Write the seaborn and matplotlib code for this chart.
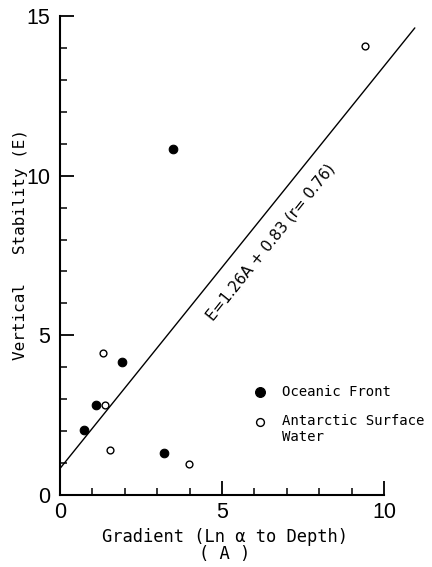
import matplotlib
matplotlib.use("Agg")
import matplotlib.pyplot as plt
import seaborn as sns
import numpy as np
import pandas as pd

# Data
front_x = [3.49, 1.91, 1.10, 0.73, 3.22]
front_y = [10.82, 4.16, 2.81, 2.04, 1.31]
asw_x = [9.41, 1.32, 1.40, 1.55, 3.98]
asw_y = [14.05, 4.45, 2.81, 1.40, 0.97]
slope = 1.26
intercept = 0.83
line_x = [0.0, 10.95]
x_ticks = [0, 5, 10]
y_ticks = [0, 5, 10, 15]

sns.set_style("ticks")
plt.rcParams['font.family'] = ['DejaVu Sans Mono', 'DejaVu Sans']
plt.rcParams['text.color'] = 'black'
plt.rcParams['axes.labelcolor'] = 'black'
plt.rcParams['xtick.color'] = 'black'
plt.rcParams['ytick.color'] = 'black'
plt.rcParams['axes.edgecolor'] = 'black'

fig = plt.figure(figsize=(4.32, 5.67), dpi=100)
ax = fig.add_axes([60/432, 72/567, 372/432, 479/567])

df_front = pd.DataFrame({"A": front_x, "E": front_y})
df_asw = pd.DataFrame({"A": asw_x, "E": asw_y})

sns.lineplot(x=line_x, y=[intercept + slope * v for v in line_x], ax=ax,
             color="black", linewidth=1.0, legend=False)
sns.scatterplot(data=df_front, x="A", y="E", ax=ax, s=38, color="black",
                edgecolor="black", linewidth=0.8, label="Oceanic Front", zorder=3)
sns.scatterplot(data=df_asw, x="A", y="E", ax=ax, s=24, facecolor="white",
                edgecolor="black", linewidth=1.0, label="Antarctic Surface\nWater", zorder=3)

ax.set_xlim(0, 11.48)
ax.set_ylim(0, 15)
ax.spines['top'].set_visible(False)
ax.spines['right'].set_visible(False)
ax.spines['bottom'].set_bounds(0, 10)
ax.spines['left'].set_bounds(0, 15)
for s in ['left', 'bottom']:
    ax.spines[s].set_linewidth(1.5)

ax.set_xticks(x_ticks)
ax.set_yticks(y_ticks)
ax.set_xticks(np.arange(0, 11, 1), minor=True)
ax.set_yticks(np.arange(0, 16, 1), minor=True)
ax.tick_params(which='major', direction='in', length=10, width=1.3, labelsize=15.5, pad=5)
ax.tick_params(which='minor', direction='in', length=5, width=1.1)
ax.tick_params(axis='y', which='major', pad=7)
for lab in ax.get_xticklabels() + ax.get_yticklabels():
    lab.set_family(['Liberation Sans', 'DejaVu Sans'])

ax.set_xlabel("Gradient (Ln \u03b1 to Depth)\n( A )", fontsize=12.3, linespacing=0.95)
ax.xaxis.set_label_coords((225 - 60) / 372, -(563 - 495) / 479, transform=ax.transAxes)
ax.xaxis.label.set_va('bottom')
ax.set_ylabel("Vertical   Stability (E)", fontsize=11.5)
ax.yaxis.set_label_coords(-(60 - 20.5) / 372, (495 - 245) / 479)
ax.yaxis.label.set_va('center')

ax.text(6.51, 7.92, "E=1.26A + 0.83 (r= 0.76)", rotation=51.3, fontsize=10.9,
        ha='center', va='center', family='DejaVu Sans')

leg = ax.legend(frameon=False, loc='upper left', bbox_to_anchor=(253/432, (567 - 385)/567),
                bbox_transform=fig.transFigure, fontsize=10.1, handletextpad=1.05,
                handlelength=1.0, labelspacing=1.05, borderpad=0, borderaxespad=0,
                markerscale=1.15)
# align the open-circle marker with the first line of its two-line label
h = leg.legend_handles[1]
off = np.asarray(h.get_offsets(), dtype=float)
h.set_offsets(off + np.array([0.0, 6.3]))

fig.savefig("out.png", dpi=100)
